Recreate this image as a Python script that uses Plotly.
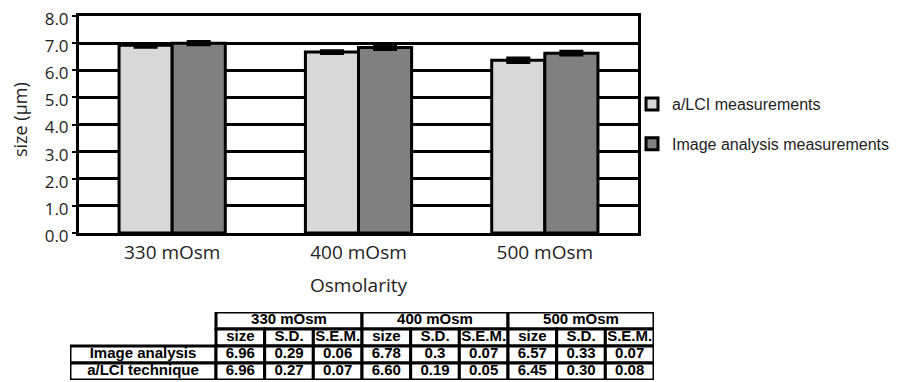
import plotly.graph_objects as go

# ---------------- data ----------------
categories = ["330 mOsm", "400 mOsm", "500 mOsm"]
alci_size = [6.92, 6.67, 6.37]
image_size = [7.00, 6.84, 6.63]         # Image analysis measurements
alci_sem = [0.07, 0.05, 0.08]
image_sem = [0.06, 0.07, 0.07]

y_ticks = [0, 1, 2, 3, 4, 5, 6, 7, 8]
y_title = "size (µm)"
x_title = "Osmolarity"

osm_headers = ["330 mOsm", "400 mOsm", "500 mOsm"]
stat_headers = ["size", "S.D.", "S.E.M."]
row_labels = ["Image analysis", "a/LCI technique"]
image_table = ["6.96", "0.29", "0.06", "6.78", "0.3", "0.07", "6.57", "0.33", "0.07"]
alci_table = ["6.96", "0.27", "0.07", "6.60", "0.19", "0.05", "6.45", "0.30", "0.08"]
table_rows = [image_table, alci_table]

# page body has an 8px margin: figure is sized to fit the 902x382 window
OFF = 8
W, H = 902 - OFF, 382 - OFF

def fx(px):
    return (px - OFF) / W

def fy(py):
    return 1 - (py - OFF) / H

TXT = "#1e1e1e"
LIGHT = "#d8d8d8"
DARK = "#808080"

fig = go.Figure()

fig.add_trace(go.Bar(
    x=categories, y=alci_size, name="a/LCI measurements",
    marker=dict(color=LIGHT, line=dict(color="black", width=3)),
    error_y=dict(type="data", array=alci_sem, color="black", thickness=3, width=12),
    legendgroup="a",
))
fig.add_trace(go.Bar(
    x=categories, y=image_size, name="Image analysis measurements",
    marker=dict(color=DARK, line=dict(color="black", width=3)),
    error_y=dict(type="data", array=image_sem, color="black", thickness=3, width=12),
    legendgroup="b",
))

# ---------------- table (drawn on its own axes) ----------------
LABEL_W = 3          # label column spans 3 column units
n_stats = len(stat_headers)
n_data_cols = len(osm_headers) * n_stats
n_cols = LABEL_W + n_data_cols
n_rows = 2 + len(row_labels)

def row_span(r):
    return n_rows - r - 1, n_rows - r

shapes = []
tx, ty, tt = [], [], []

def cell(x0, x1, r, text):
    y0, y1 = row_span(r)
    shapes.append(dict(type="rect", xref="x2", yref="y2", x0=x0, x1=x1, y0=y0, y1=y1,
                       line=dict(color="black", width=3), fillcolor="white", layer="below"))
    tx.append((x0 + x1) / 2)
    ty.append((y0 + y1) / 2)
    tt.append(text)

for i, h in enumerate(osm_headers):
    cell(LABEL_W + i * n_stats, LABEL_W + (i + 1) * n_stats, 0, h)
for j in range(n_data_cols):
    cell(LABEL_W + j, LABEL_W + j + 1, 1, stat_headers[j % n_stats])
for k, (lab, vals) in enumerate(zip(row_labels, table_rows)):
    cell(0, LABEL_W, 2 + k, lab)
    for j, v in enumerate(vals):
        cell(LABEL_W + j, LABEL_W + j + 1, 2 + k, v)

fig.add_trace(go.Scatter(
    x=tx, y=ty, text=tt, mode="text", xaxis="x2", yaxis="y2",
    textfont=dict(family="Liberation Sans", size=15, color="black", weight="bold"),
    showlegend=False, hoverinfo="skip", cliponaxis=False,
))

fig.update_layout(
    width=W, height=H,
    margin=dict(l=0, r=0, t=0, b=0, autoexpand=False),
    paper_bgcolor="white", plot_bgcolor="white",
    barmode="group", bargap=0.43, bargroupgap=0,
    font=dict(family="Open Sans", color=TXT),
    showlegend=True,
    legend=dict(
        x=fx(632), y=fy(124), xanchor="left", yanchor="middle",
        font=dict(family="Liberation Sans", size=16, color=TXT),
        tracegroupgap=16, bgcolor="rgba(0,0,0,0)",
    ),
    xaxis=dict(
        domain=[fx(79), fx(638)], type="category", automargin=False,
        showline=True, mirror=True, linecolor="black", linewidth=3,
        ticks="", showgrid=False,
        tickfont=dict(family="Open Sans", size=19, color=TXT),
        title=dict(text=x_title, font=dict(family="Open Sans", size=19, color=TXT), standoff=15),
        anchor="y",
    ),
    yaxis=dict(
        domain=[fy(233), fy(16)], range=[0, 8.0005], automargin=False,
        tickvals=y_ticks, tickformat=".1f", ticklabeloverflow="allow", ticklabelshift=3,
        showgrid=True, gridcolor="black", gridwidth=3, zeroline=False,
        showline=True, mirror=True, linecolor="black", linewidth=3,
        ticks="outside", ticklen=4, tickwidth=2, tickcolor="black",
        tickfont=dict(family="Open Sans", size=17, color=TXT),
        anchor="x",
    ),
    xaxis2=dict(domain=[fx(70), fx(654)], range=[0, n_cols], visible=False, anchor="y2",
                fixedrange=True, automargin=False),
    yaxis2=dict(domain=[fy(380), fy(312)], range=[0, n_rows], visible=False, anchor="x2",
                fixedrange=True, automargin=False),
    shapes=shapes,
    annotations=[dict(
        text=y_title, xref="paper", yref="paper", x=fx(20), y=fy(120),
        xanchor="center", yanchor="middle", textangle=-90, showarrow=False,
        font=dict(family="Open Sans", size=18, color=TXT),
    )],
)

fig.write_html("out.html")
